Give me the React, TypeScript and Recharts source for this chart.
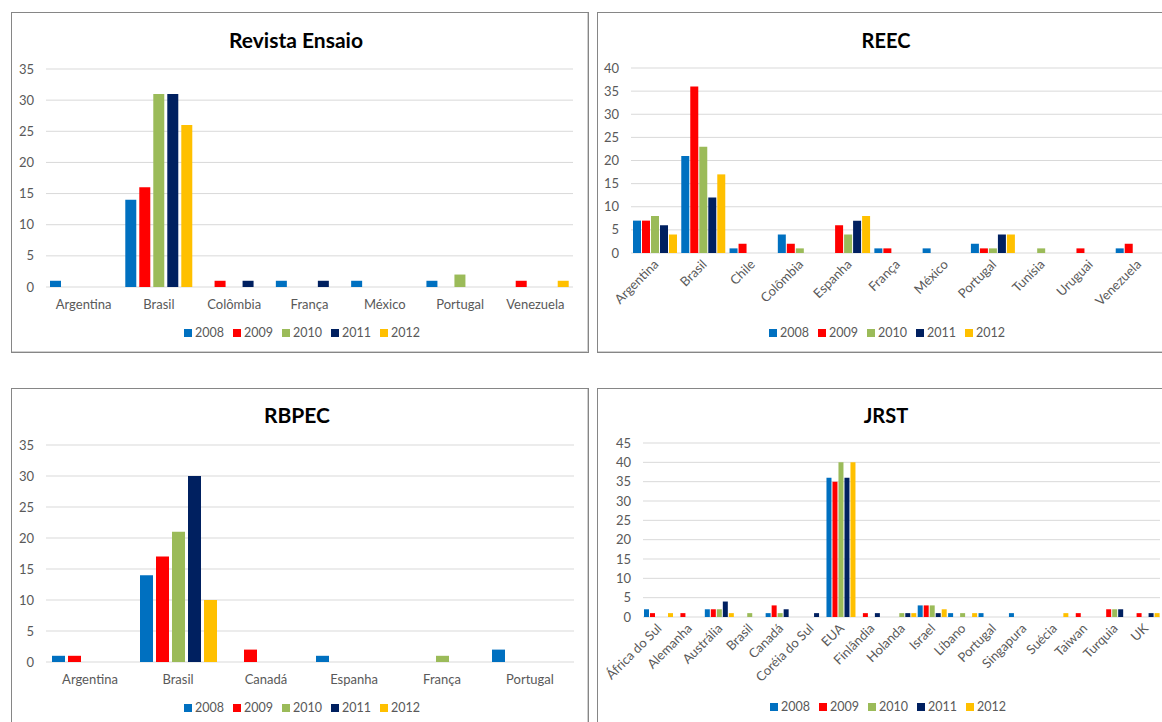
import { BarChart, Bar, XAxis, YAxis, CartesianGrid, Legend } from 'recharts'

const years = ['2008', '2009', '2010', '2011', '2012']
const yearColors = ['#0070c0', '#ff0000', '#9bbb59', '#002060', '#ffc000']

// Revista Ensaio
const ensaioCountries = ['Argentina', 'Brasil', 'Colômbia', 'França', 'México', 'Portugal', 'Venezuela']
const ensaio2008 = [1, 14, 0, 1, 1, 1, 0]
const ensaio2009 = [0, 16, 1, 0, 0, 0, 1]
const ensaio2010 = [0, 31, 0, 0, 0, 2, 0]
const ensaio2011 = [0, 31, 1, 1, 0, 0, 0]
const ensaio2012 = [0, 26, 0, 0, 0, 0, 1]
const ensaioTicks = [0, 5, 10, 15, 20, 25, 30, 35]

// REEC
const reecCountries = ['Argentina', 'Brasil', 'Chile', 'Colômbia', 'Espanha', 'França', 'México', 'Portugal', 'Tunísia', 'Uruguai', 'Venezuela']
const reec2008 = [7, 21, 1, 4, 0, 1, 1, 2, 0, 0, 1]
const reec2009 = [7, 36, 2, 2, 6, 1, 0, 1, 0, 1, 2]
const reec2010 = [8, 23, 0, 1, 4, 0, 0, 1, 1, 0, 0]
const reec2011 = [6, 12, 0, 0, 7, 0, 0, 4, 0, 0, 0]
const reec2012 = [4, 17, 0, 0, 8, 0, 0, 4, 0, 0, 0]
const reecTicks = [0, 5, 10, 15, 20, 25, 30, 35, 40]

// RBPEC
const rbpecCountries = ['Argentina', 'Brasil', 'Canadá', 'Espanha', 'França', 'Portugal']
const rbpec2008 = [1, 14, 0, 1, 0, 2]
const rbpec2009 = [1, 17, 2, 0, 0, 0]
const rbpec2010 = [0, 21, 0, 0, 1, 0]
const rbpec2011 = [0, 30, 0, 0, 0, 0]
const rbpec2012 = [0, 10, 0, 0, 0, 0]
const rbpecTicks = [0, 5, 10, 15, 20, 25, 30, 35]

// JRST
const jrstCountries = ['África do Sul', 'Alemanha', 'Austrália', 'Brasil', 'Canadá', 'Coréia do Sul', 'EUA', 'Finlândia', 'Holanda', 'Israel', 'Líbano', 'Portugal', 'Singapura', 'Suécia', 'Taiwan', 'Turquia', 'UK']
const jrst2008 = [2, 0, 2, 0, 1, 0, 36, 0, 0, 3, 1, 1, 1, 0, 0, 0, 0]
const jrst2009 = [1, 1, 2, 0, 3, 0, 35, 1, 0, 3, 0, 0, 0, 0, 1, 2, 1]
const jrst2010 = [0, 0, 2, 1, 1, 0, 40, 0, 1, 3, 1, 0, 0, 0, 0, 2, 0]
const jrst2011 = [0, 0, 4, 0, 2, 1, 36, 1, 1, 1, 0, 0, 0, 0, 0, 2, 1]
const jrst2012 = [1, 0, 1, 0, 0, 0, 40, 0, 1, 2, 1, 0, 0, 1, 0, 0, 1]
const jrstTicks = [0, 5, 10, 15, 20, 25, 30, 35, 40, 45]

const FONT = 'Lato, "Open Sans", sans-serif'
const TEXT = '#595959'

function SlantTick({ x, y, payload }: any) {
  return (
    <g transform={`translate(${x + 1},${y + 9})`}>
      <text x={0} y={0} dy="0.35em" textAnchor="end" transform="rotate(-45)" fill={TEXT} fontSize={13} fontFamily={FONT}>
        {payload.value}
      </text>
    </g>
  )
}

// legend drawn from the library's payload, spaced like the Excel original
function YearLegend({ payload }: any) {
  return (
    <div style={{ textAlign: 'center', fontSize: 12.5, lineHeight: '16px', color: TEXT, fontFamily: FONT, whiteSpace: 'nowrap' }}>
      {(payload || []).map((e: any, i: number) => (
        <span key={e.value} style={{ display: 'inline-block', marginLeft: i ? 9 : 0 }}>
          <span
            style={{
              display: 'inline-block',
              width: 8,
              height: 8,
              background: e.color,
              marginRight: 3,
              verticalAlign: 'middle',
              position: 'relative',
              top: -1,
            }}
          />
          {e.value}
        </span>
      ))}
    </div>
  )
}

interface ChartProps {
  title: string
  titleX: number
  titleTop: number
  titleSize: number
  countries: string[]
  series: number[][]
  ticks: number[]
  width: number
  height: number
  margin: { top: number; right: number; bottom: number; left: number }
  yWidth: number
  xHeight: number
  catGap: number
  barGap: number
  slanted?: boolean
  legendTop: number
  legendX: number
}

function CountryChart(p: ChartProps) {
  const rows = p.countries.map((c, i) => {
    const r: Record<string, string | number> = { country: c }
    years.forEach((y, k) => {
      r[y] = p.series[k][i]
    })
    return r
  })
  return (
    <div style={{ position: 'relative', width: p.width, height: p.height }}>
      <div
        style={{
          position: 'absolute',
          left: p.titleX - 150,
          width: 300,
          top: p.titleTop,
          textAlign: 'center',
          fontWeight: 700,
          fontSize: p.titleSize,
          lineHeight: '24px',
          color: '#000',
        }}
      >
        {p.title}
      </div>
      <BarChart
        width={p.width}
        height={p.height}
        data={rows}
        margin={p.margin}
        barCategoryGap={p.catGap}
        barGap={p.barGap}
      >
        <CartesianGrid vertical={false} stroke="#d9d9d9" />
        <XAxis
          dataKey="country"
          interval={0}
          axisLine={false}
          tickLine={false}
          tickSize={0}
          tickMargin={p.slanted ? 0 : 13}
          height={p.xHeight}
          tick={p.slanted ? <SlantTick /> : { fill: TEXT, fontSize: 13, fontFamily: FONT }}
        />
        <YAxis
          domain={[0, p.ticks[p.ticks.length - 1]]}
          ticks={p.ticks}
          interval={0}
          width={p.yWidth}
          axisLine={false}
          tickLine={false}
          tickSize={0}
          tickMargin={12}
          tick={{ fill: TEXT, fontSize: 13, fontFamily: FONT }}
        />
        <Legend
          verticalAlign="bottom"
          align="center"
          content={<YearLegend />}
          wrapperStyle={{ top: p.legendTop, bottom: 'auto', left: p.legendX - 150, width: 300 }}
        />
        {years.map((y, k) => (
          <Bar key={y} dataKey={y} name={y} fill={yearColors[k]} isAnimationActive={false} />
        ))}
      </BarChart>
    </div>
  )
}

const panel = (left: number, top: number, width: number, height: number): React.CSSProperties => ({
  position: 'absolute',
  left,
  top,
  width,
  height,
  boxSizing: 'border-box',
  border: '1px solid #868686',
  boxShadow: 'inset -1px -1px 0 #d0d0d0',
  background: '#fff',
})

export default function App() {
  return (
    <div
      style={{
        position: 'absolute',
        left: 0,
        top: 0,
        width: 1162,
        height: 722,
        overflow: 'hidden',
        background: '#fff',
        fontFamily: FONT,
      }}
    >
      <div style={panel(11, 12, 578, 341)}>
        <CountryChart
          title="Revista Ensaio"
          titleX={284}
          titleTop={15}
          titleSize={21}
          countries={ensaioCountries}
          series={[ensaio2008, ensaio2009, ensaio2010, ensaio2011, ensaio2012]}
          ticks={ensaioTicks}
          width={576}
          height={339}
          margin={{ top: 56, right: 15, bottom: 19, left: 4 }}
          yWidth={30}
          xHeight={30}
          catGap={4}
          barGap={3}
          legendTop={312}
          legendX={290}
        />
      </div>
      <div style={panel(597, 12, 580, 341)}>
        <CountryChart
          title="REEC"
          titleX={288}
          titleTop={15}
          titleSize={20}
          countries={reecCountries}
          series={[reec2008, reec2009, reec2010, reec2011, reec2012]}
          ticks={reecTicks}
          width={570}
          height={339}
          margin={{ top: 55, right: 6, bottom: 13, left: 3 }}
          yWidth={30}
          xHeight={70}
          catGap={2}
          barGap={1}
          slanted
          legendTop={312}
          legendX={289}
        />
      </div>
      <div style={panel(11, 388, 578, 345)}>
        <CountryChart
          title="RBPEC"
          titleX={285}
          titleTop={14}
          titleSize={21}
          countries={rbpecCountries}
          series={[rbpec2008, rbpec2009, rbpec2010, rbpec2011, rbpec2012]}
          ticks={rbpecTicks}
          width={576}
          height={338}
          margin={{ top: 56, right: 14, bottom: 19, left: 4 }}
          yWidth={30}
          xHeight={30}
          catGap={6}
          barGap={3}
          legendTop={311}
          legendX={290}
        />
      </div>
      <div style={panel(597, 388, 580, 345)}>
        <CountryChart
          title="JRST"
          titleX={288}
          titleTop={14}
          titleSize={20}
          countries={jrstCountries}
          series={[jrst2008, jrst2009, jrst2010, jrst2011, jrst2012]}
          ticks={jrstTicks}
          width={570}
          height={338}
          margin={{ top: 54, right: 8, bottom: 14, left: 3 }}
          yWidth={42}
          xHeight={80}
          catGap={1}
          barGap={1}
          slanted
          legendTop={310}
          legendX={290}
        />
      </div>
    </div>
  )
}
